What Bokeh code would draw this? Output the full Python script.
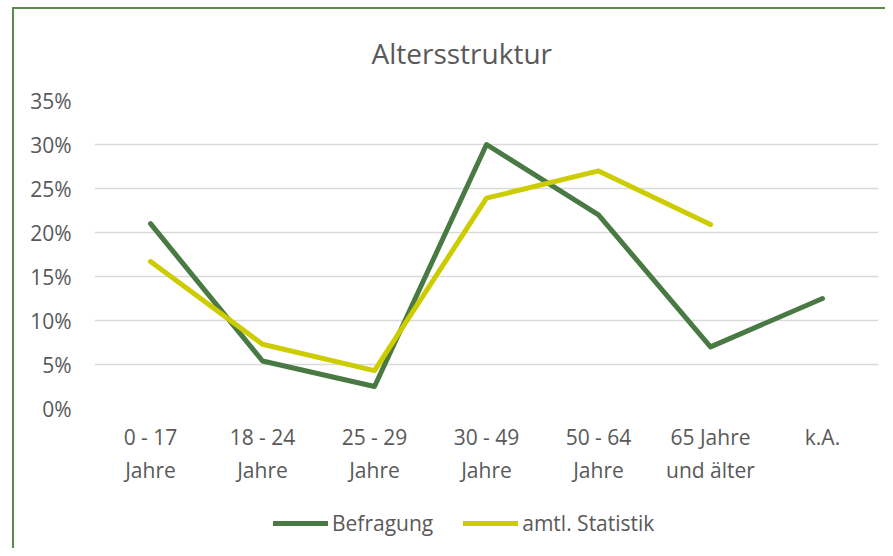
from bokeh.plotting import figure
from bokeh.layouts import column
from bokeh.models import FactorRange, Range1d, FixedTicker, NumeralTickFormatter, Legend, LegendItem
from bokeh.embed import file_html
from bokeh.resources import INLINE
import numpy as np

categories = ["0 - 17\nJahre", "18 - 24\nJahre", "25 - 29\nJahre", "30 - 49\nJahre",
              "50 - 64\nJahre", "65 Jahre\nund älter", "k.A."]
befragung = [0.21, 0.054, 0.025, 0.30, 0.22, 0.07, 0.125]
statistik = [0.167, 0.073, 0.043, 0.239, 0.27, 0.209, np.nan]
y_ticks = [0, 0.05, 0.10, 0.15, 0.20, 0.25, 0.30, 0.35]
series_names = ["Befragung", "amtl. Statistik"]
series_colors = ["#4a7a43", "#cccc00"]

FONT = "Open Sans"
TXT = "#595959"
BORDER = "#5b8a4e"
W = 885

p = figure(width=W, height=500, x_range=FactorRange(*categories), y_range=Range1d(0, 0.35),
           output_backend="svg", toolbar_location=None, title="Altersstruktur",
           min_border_left=94, min_border_right=7, min_border_top=100, min_border_bottom=92)
p.border_fill_color = None

p.title.align = "left"
p.title.offset = 277
p.title.text_font = FONT
p.title.text_font_size = "28px"
p.title.text_font_style = "normal"
p.title.text_color = TXT
p.title.standoff = 58

p.outline_line_color = None
p.xgrid.grid_line_color = None
p.ygrid.grid_line_color = "#d9d9d9"
p.ygrid.grid_line_width = 1.3

p.yaxis.ticker = FixedTicker(ticks=y_ticks)
p.yaxis.formatter = NumeralTickFormatter(format="0%")
for ax in (p.xaxis[0], p.yaxis[0]):
    ax.axis_line_color = None
    ax.major_tick_line_color = None
    ax.minor_tick_line_color = None
    ax.major_tick_out = 0
    ax.major_tick_in = 0
    ax.major_label_text_font = FONT
    ax.major_label_text_font_size = "21px"
    ax.major_label_text_color = TXT
p.yaxis.major_label_standoff = 23
p.xaxis.major_label_standoff = 14

p.line(x=categories, y=befragung, line_color=series_colors[0], line_width=5,
       line_cap="round", line_join="round")
p.line(x=categories, y=statistik, line_color=series_colors[1], line_width=5,
       line_cap="round", line_join="round")

# legend strip below the chart
lf = figure(width=W, height=48, x_range=Range1d(0, 1), y_range=Range1d(0, 1),
            output_backend="svg", toolbar_location=None,
            x_axis_location=None, y_axis_location=None,
            min_border_left=0, min_border_right=0, min_border_top=0, min_border_bottom=0)
lf.border_fill_color = None
lf.background_fill_color = None
lf.outline_line_color = None
lf.grid.visible = False
items = []
for name, col in zip(series_names, series_colors):
    r = lf.line(x=[np.nan], y=[np.nan], line_color=col, line_width=5,
                line_cap="round", line_join="round")
    items.append(LegendItem(label=name, renderers=[r]))
legend = Legend(items=items, orientation="horizontal", location=(179, 11),
                border_line_color=None, background_fill_alpha=0,
                label_text_font=FONT, label_text_font_size="21px", label_text_color=TXT,
                glyph_width=55, label_standoff=4, spacing=30, margin=0, padding=0)
lf.add_layout(legend, "center")

layout = column(p, lf, spacing=0)
layout.styles = {
    "background": (f"linear-gradient({BORDER},{BORDER}) 12px 7px / 2px 100% no-repeat, "
                   f"linear-gradient({BORDER},{BORDER}) 12px 7px / 100% 2px no-repeat, white"),
}

open("out.html", "w").write(file_html(layout, INLINE))
